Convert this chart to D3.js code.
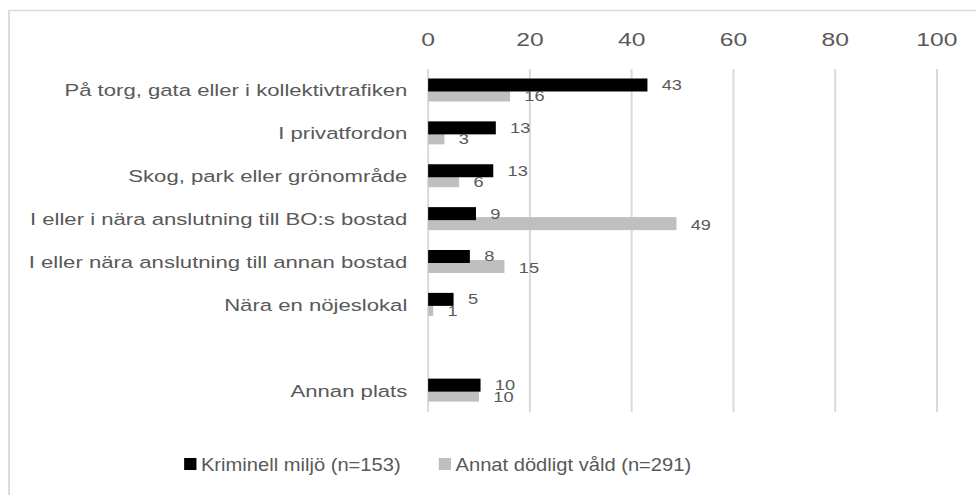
<!DOCTYPE html>
<html>
<head>
<meta charset="utf-8">
<script src="https://cdn.jsdelivr.net/npm/d3@7"></script>
<style>
  html, body { margin: 0; padding: 0; background: #fff; }
  svg text { font-family: "Liberation Sans", Arial, sans-serif; }
</style>
</head>
<body>
<div id="chart"></div>
<script>
// data (percent)
var categories = [
  "På torg, gata eller i kollektivtrafiken",
  "I privatfordon",
  "Skog, park eller grönområde",
  "I eller i nära anslutning till BO:s bostad",
  "I eller nära anslutning till annan bostad",
  "Nära en nöjeslokal",
  " ",
  "Annan plats"
];
var kriminell = [43.1, 13.3, 12.8, 9.4, 8.2, 5.0, null, 10.3];
var annat     = [16.1, 3.2, 6.1, 48.8, 15.0, 1.0, null, 10.0];
var xTicks = [0, 20, 40, 60, 80, 100];
var seriesNames = ["Kriminell miljö (n=153)", "Annat dödligt våld (n=291)"];
var seriesColors = ["#000000", "#bfbfbf"];

// the picture is stretched sideways, so draw in a narrower box and stretch it
var outW = 976, outH = 495, W = 750, H = 495;

var svg = d3.select("#chart").append("svg")
    .attr("width", outW)
    .attr("height", outH)
    .attr("viewBox", "0 0 " + W + " " + H)
    .attr("preserveAspectRatio", "none");

// chart frame (runs off the right and bottom edge)
svg.append("rect")
    .attr("x", 7).attr("y", 10.5)
    .attr("width", W + 20).attr("height", H + 20)
    .attr("fill", "none")
    .attr("stroke", "#d9d9d9")
    .attr("stroke-width", 1.5);

var x = d3.scaleLinear().domain([0, 100]).range([329, 720]);
var y = d3.scaleBand().domain(categories).range([69, 412]);

var barH = 13;

// gridlines
svg.append("g").selectAll("line")
    .data(xTicks)
    .enter().append("line")
    .attr("x1", x).attr("x2", x)
    .attr("y1", y.range()[0]).attr("y2", y.range()[1])
    .attr("stroke", "#d9d9d9")
    .attr("stroke-width", 1.5);

// top axis labels
svg.append("g").selectAll("text")
    .data(xTicks)
    .enter().append("text")
    .attr("x", x)
    .attr("y", 46)
    .attr("text-anchor", "middle")
    .attr("font-size", 19)
    .attr("fill", "#595959")
    .text(function(d) { return d; });

// category labels
svg.append("g").selectAll("text")
    .data(categories)
    .enter().append("text")
    .attr("x", 313)
    .attr("y", function(d) { return y(d) + y.bandwidth() / 2 + 6; })
    .attr("text-anchor", "end")
    .attr("font-size", 17)
    .attr("fill", "#595959")
    .text(function(d) { return d.trim(); });

var rows = categories.map(function(c, i) {
  return {cat: c, k: kriminell[i], a: annat[i]};
}).filter(function(d) { return d.k != null; });

var fmt = d3.format(".0f");

// gray bars sit behind the black ones (overlap like the original)
svg.append("g").selectAll("rect")
    .data(rows)
    .enter().append("rect")
    .attr("x", x(0))
    .attr("y", function(d) { return y(d.cat) + 19.5; })
    .attr("width", function(d) { return x(d.a) - x(0); })
    .attr("height", barH)
    .attr("fill", seriesColors[1]);

svg.append("g").selectAll("rect")
    .data(rows)
    .enter().append("rect")
    .attr("x", x(0))
    .attr("y", function(d) { return y(d.cat) + 9.5; })
    .attr("width", function(d) { return x(d.k) - x(0); })
    .attr("height", barH)
    .attr("fill", seriesColors[0]);

// value labels
svg.append("g").selectAll("text")
    .data(rows)
    .enter().append("text")
    .attr("x", function(d) { return x(d.k) + 11; })
    .attr("y", function(d) { return y(d.cat) + 16 + 5; })
    .attr("font-size", 14)
    .attr("fill", "#595959")
    .text(function(d) { return fmt(d.k); });

svg.append("g").selectAll("text")
    .data(rows)
    .enter().append("text")
    .attr("x", function(d) { return x(d.a) + 11; })
    .attr("y", function(d) { return y(d.cat) + 27.5 + 5; })
    .attr("font-size", 14)
    .attr("fill", "#595959")
    .text(function(d) { return fmt(d.a); });

// legend (its text is less stretched than the rest)
var legend = svg.append("g").attr("transform", "translate(141.5,0) scale(0.86,1)");
var lx = 0;
seriesNames.forEach(function(name, i) {
  legend.append("rect")
      .attr("x", lx).attr("y", 458)
      .attr("width", 11).attr("height", 12)
      .attr("fill", seriesColors[i]);
  var t = legend.append("text")
      .attr("x", lx + 15)
      .attr("y", 471)
      .attr("font-size", 18)
      .attr("fill", "#595959")
      .text(name);
  lx += 15 + t.node().getComputedTextLength() + 34;
});
</script>
</body>
</html>
